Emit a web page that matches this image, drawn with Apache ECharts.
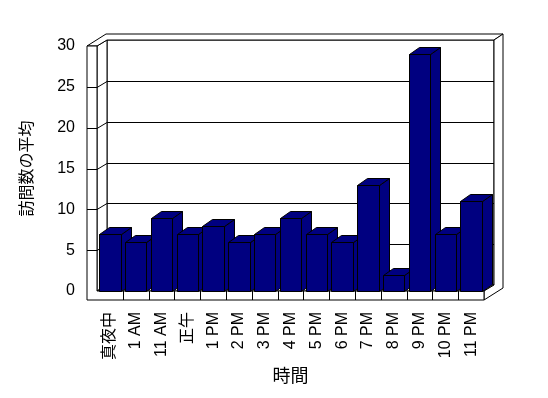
<!DOCTYPE html>
<html>
<head>
<meta charset="utf-8">
<script src="https://cdn.jsdelivr.net/npm/echarts@6/dist/echarts.min.js"></script>
<style>
  html, body { margin: 0; padding: 0; background: #fff; }
  #main { width: 548px; height: 398px; }
</style>
</head>
<body>
<div id="main"></div>
<script>
// データ
const hours = ['真夜中', '1 AM', '11 AM', '正午', '1 PM', '2 PM', '3 PM', '4 PM',
  '5 PM', '6 PM', '7 PM', '8 PM', '9 PM', '10 PM', '11 PM'];
const visits = [7, 6, 9, 7, 8, 6, 7, 9, 7, 6, 13, 2, 29, 7, 11];
const yTicks = [0, 5, 10, 15, 20, 25, 30];

const FONT = "'Liberation Sans', 'Noto Sans CJK JP', sans-serif";
const BAR = '#000080';
// 奥行き (内側の壁 / 外側の壁)
const D = [10, -6];
const O = [19, -12];

const chart = echarts.init(document.getElementById('main'));

// 壁・床
function renderFrame(params, api) {
  const bw = api.size([1, 0])[0];
  const L = api.coord([0, 0])[0] - bw / 2;
  const R = api.coord([hours.length - 1, 0])[0] + bw / 2;
  const B = api.coord([0, 0])[1];
  const T = api.coord([0, 30])[1];
  const st = { fill: '#fff', stroke: '#000', lineWidth: 1 };
  const children = [
    // 奥の壁
    { type: 'polygon', shape: { points: [[L + D[0], T + D[1]], [R + D[0], T + D[1]], [R + D[0], B + D[1]], [L + D[0], B + D[1]]] }, style: st },
    // 左の壁 (内側)
    { type: 'polygon', shape: { points: [[L, T], [L + D[0], T + D[1]], [L + D[0], B + D[1]], [L, B]] }, style: st },
    // 床の上面
    { type: 'polygon', shape: { points: [[L, B], [L + D[0], B + D[1]], [R + D[0], B + D[1]], [R, B]] }, style: st },
    // 上端
    { type: 'polygon', shape: { points: [[L - 10, T], [L - 10 + O[0], T + O[1]], [R + O[0], T + O[1]], [R + D[0], T + D[1]], [L + D[0], T + D[1]], [L, T]] }, style: st },
    // 右端
    { type: 'polygon', shape: { points: [[R + D[0], T + D[1]], [R + O[0], T + O[1]], [R + O[0], B + 9 + O[1]], [R, B + 9], [R, B], [R + D[0], B + D[1]]] }, style: st },
    // 左の壁の前面と床の前面
    { type: 'polygon', shape: { points: [[L - 10, T], [L, T], [L, B], [R, B], [R, B + 9], [L - 10, B + 9]] }, style: st }
  ];
  // 床前面の区切り
  for (let i = 1; i < hours.length; i++) {
    const x = Math.round(L + bw * i) + 0.5;
    children.push({ type: 'line', shape: { x1: x, y1: B, x2: x, y2: B + 9 }, style: { stroke: '#000', lineWidth: 1 } });
  }
  return { type: 'group', children: children };
}

// 目盛線
function renderGrid(params, api) {
  const v = api.value(1);
  if (v === 0 || v === 30) return null;
  const bw = api.size([1, 0])[0];
  const L = api.coord([0, 0])[0] - bw / 2;
  const R = api.coord([hours.length - 1, 0])[0] + bw / 2;
  const y = Math.round(api.coord([0, v])[1]) + 0.5;
  const ls = { stroke: '#000', lineWidth: 1 };
  return {
    type: 'group',
    children: [
      { type: 'line', shape: { x1: L + D[0], y1: y + D[1], x2: R + D[0], y2: y + D[1] }, style: ls },
      { type: 'line', shape: { x1: L, y1: y, x2: L + D[0], y2: y + D[1] }, style: ls },
      { type: 'line', shape: { x1: L - 10, y1: y, x2: L, y2: y }, style: ls }
    ]
  };
}

// 3D の棒
function renderBar(params, api) {
  const c = api.coord([api.value(0), api.value(1)]);
  const base = api.coord([api.value(0), 0]);
  const w = api.size([1, 0])[0] * 0.83;
  const x0 = Math.round(c[0] - w / 2) + 0.5;
  const x1 = Math.round(c[0] + w / 2) + 0.5;
  const y0 = Math.round(c[1]) + 0.5;
  const y1 = Math.round(base[1]) + 0.5;
  const dx = 10, dy = -7;
  const st = { fill: BAR, stroke: '#000', lineWidth: 1 };
  return {
    type: 'group',
    children: [
      { type: 'polygon', shape: { points: [[x1, y0], [x1 + dx, y0 + dy], [x1 + dx, y1 + dy], [x1, y1]] }, style: st },
      { type: 'polygon', shape: { points: [[x0, y0], [x0 + dx, y0 + dy], [x1 + dx, y0 + dy], [x1, y0]] }, style: st },
      { type: 'polygon', shape: { points: [[x0, y0], [x1, y0], [x1, y1], [x0, y1]] }, style: st }
    ]
  };
}

chart.setOption({
  backgroundColor: '#fff',
  animation: false,
  grid: { left: 97, right: 64, top: 46, bottom: 107 },
  xAxis: {
    type: 'category',
    data: hours,
    name: '時間',
    nameLocation: 'middle',
    nameGap: 77,
    nameTextStyle: { fontFamily: FONT, fontSize: 18, color: '#000' },
    axisLine: { show: false },
    axisTick: { show: false },
    axisLabel: { interval: 0, rotate: 90, margin: 21, fontFamily: FONT, fontSize: 16, color: '#000' }
  },
  yAxis: {
    type: 'value',
    min: 0,
    max: 30,
    interval: 5,
    name: '訪問数の平均',
    nameLocation: 'middle',
    nameGap: 61,
    nameTextStyle: { fontFamily: FONT, fontSize: 16, color: '#000' },
    axisLine: { show: false },
    axisTick: { show: false },
    splitLine: { show: false },
    axisLabel: { margin: 22, fontFamily: FONT, fontSize: 16, color: '#000' }
  },
  series: [
    { type: 'custom', renderItem: renderFrame, data: [[0, 0]], z: 1, silent: true },
    { type: 'custom', renderItem: renderGrid, data: yTicks.map(v => [0, v]), z: 2, silent: true },
    { type: 'custom', renderItem: renderBar, data: visits.map((v, i) => [i, v]), z: 3 }
  ]
});
</script>
</body>
</html>
